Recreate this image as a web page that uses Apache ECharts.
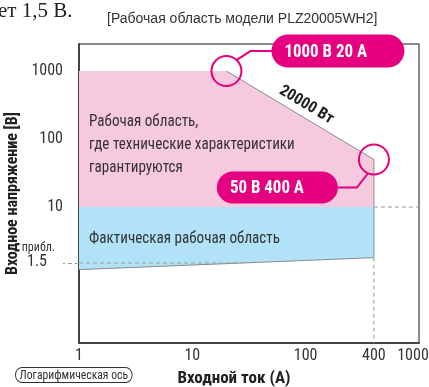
<!DOCTYPE html>
<html>
<head>
<meta charset="utf-8">
<script src="https://cdn.jsdelivr.net/npm/echarts@6/dist/echarts.min.js"></script>
<style>
  html, body { margin: 0; padding: 0; background: #fff; }
  #chart { width: 429px; height: 387px; }
</style>
</head>
<body>
<div id="chart"></div>
<script>
// Operating area of the PLZ20005WH2 electronic load (log-log: current vs voltage)
const currentTicks = [1, 10, 100, 400, 1000];      // A
const voltageTicks = [1.5, 10, 100, 1000];         // V

// Region where specifications are guaranteed (outline vertices)
const specCurrent = [1, 20, 400, 400, 1];          // A
const specVoltage = [1000, 1000, 50, 10, 10];      // V

// Actual operating region below the guaranteed area
const actualCurrent = [1, 400, 400, 1];            // A
const actualVoltage = [10, 10, 1.8, 1.2];          // V

// Minimum operating voltage line
const minLineCurrent = [1, 400];
const minLineVoltage = [1.2, 1.8];
const minVoltageApprox = 1.5;

// Rated corners and the constant-power limit between them
const cornerCurrent = [20, 400];
const cornerVoltage = [1000, 50];
const cornerText = ['1000 В 20 А', '50 В 400 А'];
const powerLimitW = 20000;
const powerText = '20000 Вт';

const axisCurrentMax = 1000;
const axisVoltageMin = 0.1;
const axisVoltageMax = 2500;

const NARROW = '"Noto Sans Condensed", "Liberation Sans Narrow", "Roboto Condensed", "DejaVu Sans Condensed", "Liberation Sans", sans-serif';
const MAGENTA = '#E4007F';
const PINK = '#F7C9DE';
const BLUE = '#B2E2F8';
const EDGE = '#8a8a8a';
const DASH = '#9a9a9a';
const TEXT = '#333333';

const pairs = (xs, ys) => xs.map((x, i) => [x, ys[i]]);

// current where the minimum-voltage line reaches the approximate value (log-log interpolation)
const lg = Math.log10;
const tMin = (lg(minVoltageApprox) - lg(minLineVoltage[0])) / (lg(minLineVoltage[1]) - lg(minLineVoltage[0]));
const minCrossCurrent = Math.pow(10, lg(minLineCurrent[0]) + tMin * (lg(minLineCurrent[1]) - lg(minLineCurrent[0])));

const chart = echarts.init(document.getElementById('chart'), null, { renderer: 'canvas' });

function regionItem(xs, ys, fill, label, labelDy) {
  return function (params, api) {
    const pts = xs.map((x, i) => api.coord([x, ys[i]]));
    const left = Math.min(...pts.map(p => p[0]));
    const leftYs = pts.filter(p => Math.abs(p[0] - left) < 0.5).map(p => p[1]);
    const midY = (Math.min(...leftYs) + Math.max(...leftYs)) / 2;
    return {
      type: 'group',
      children: [
        { type: 'polygon', shape: { points: pts }, style: { fill: fill } },
        {
          type: 'text',
          x: left + 10, y: midY + labelDy, scaleX: 0.89,
          style: {
            text: label, fill: TEXT, font: '17px ' + NARROW, lineHeight: 23,
            align: 'left', verticalAlign: 'middle'
          }
        }
      ]
    };
  };
}

function calloutItem(params, api) {
  const i = params.dataIndex;
  const c = api.coord([cornerCurrent[i], cornerVoltage[i]]);
  const r = 15;
  let pts, pill;
  if (i === 0) {
    pts = [[c[0] + 10, c[1] - 11], [c[0] + 24, c[1] - 20], [c[0] + 46, c[1] - 20]];
    pill = { x: c[0] + 45, y: c[1] - 36.5, w: 133, h: 33 };
  } else {
    pts = [[c[0] - 6, c[1] + 14], [c[0] - 17, c[1] + 28], [c[0] - 37, c[1] + 28]];
    pill = { x: c[0] - 36 - 121, y: c[1] + 12, w: 121, h: 32 };
  }
  return {
    type: 'group',
    children: [
      { type: 'circle', shape: { cx: c[0], cy: c[1], r: r }, style: { fill: null, stroke: MAGENTA, lineWidth: 2 } },
      { type: 'polyline', shape: { points: pts }, style: { fill: null, stroke: MAGENTA, lineWidth: 2 } },
      { type: 'rect', shape: { x: pill.x, y: pill.y, width: pill.w, height: pill.h, r: pill.h / 2 }, style: { fill: MAGENTA } },
      {
        type: 'text',
        x: pill.x + 13, y: pill.y + pill.h / 2 + 1, scaleX: 0.94,
        style: {
          text: cornerText[i], fill: '#fff', font: 'bold 18px ' + NARROW,
          align: 'left', verticalAlign: 'middle'
        }
      }
    ]
  };
}

function powerLabelItem(params, api) {
  const p1 = api.coord([cornerCurrent[0], cornerVoltage[0]]);
  const p2 = api.coord([cornerCurrent[1], cornerVoltage[1]]);
  const iMid = Math.sqrt(cornerCurrent[0] * cornerCurrent[1]);
  const m = api.coord([iMid, powerLimitW / iMid]);
  const a = Math.atan2(p2[1] - p1[1], p2[0] - p1[0]);
  const off = 12;
  return {
    type: 'text',
    x: m[0] + Math.sin(a) * off,
    y: m[1] - Math.cos(a) * off,
    rotation: -a,
    style: {
      text: powerText, fill: '#222', font: 'bold 16px ' + NARROW,
      align: 'center', verticalAlign: 'middle'
    }
  };
}

const lineBase = { type: 'line', symbol: 'none', silent: true, animation: false };

chart.setOption({
  animation: false,
  title: {
    text: '[Рабочая область модели PLZ20005WH2]',
    left: 107, top: 12, padding: 0,
    textStyle: { fontSize: 14, fontWeight: 'normal', color: TEXT, fontFamily: '"Liberation Sans", Arial, sans-serif' }
  },
  graphic: [
    {
      type: 'text', left: -2, top: 1,
      style: { text: 'ет 1,5 В.', fill: '#222', font: '21px "Liberation Serif", "DejaVu Serif", serif' }
    },
    {
      type: 'text', left: 15, top: 367, scaleX: 0.9,
      style: {
        text: 'Логарифмическая ось', fill: TEXT, font: '13px ' + NARROW,
        padding: [1, 4, 0, 4], borderColor: '#333', borderWidth: 1, borderRadius: 9, backgroundColor: '#fff'
      }
    }
  ],
  grid: {
    left: 79, right: 10, top: 44, bottom: 44, show: true, borderColor: '#666', borderWidth: 1.5,
    containLabel: false, outerBoundsMode: 'none'
  },
  xAxis: {
    type: 'log', logBase: 10, min: currentTicks[0], max: axisCurrentMax * 1.0001,
    name: 'Входной ток (А)', nameLocation: 'middle', nameGap: 27, nameMoveOverlap: false,
    nameTextStyle: { fontSize: 17, fontWeight: 'bold', color: '#222', fontFamily: NARROW, padding: [0, 30, 0, 0] },
    axisLine: { show: true, lineStyle: { color: '#444', width: 2 } },
    axisTick: { show: false },
    splitLine: { show: false },
    axisLabel: {
      customValues: currentTicks, margin: 5, fontSize: 16, color: TEXT, fontFamily: NARROW,
      formatter: v => {
        const n = Math.round(v);
        return n === axisCurrentMax ? '{r|' + n + '}' : String(n);
      },
      rich: { r: { fontSize: 16, color: TEXT, fontFamily: NARROW, padding: [0, 12, 0, 0] } }
    }
  },
  yAxis: {
    type: 'log', logBase: 10, min: axisVoltageMin, max: axisVoltageMax,
    name: 'Входное напряжение [В]', nameLocation: 'middle', nameGap: 58, nameMoveOverlap: false,
    nameTextStyle: { fontSize: 16, fontWeight: 'bold', color: '#222', fontFamily: NARROW },
    axisLine: { show: true, lineStyle: { color: '#444', width: 2 } },
    axisTick: { show: true, customValues: [minVoltageApprox], inside: false, length: 16, lineStyle: { color: DASH, type: [4, 3], width: 1 } },
    splitLine: { show: false },
    axisLabel: {
      customValues: voltageTicks, margin: 16, fontSize: 16, color: TEXT, fontFamily: NARROW,
      formatter: v => {
        const n = Math.round(v * 10) / 10;
        return n === minVoltageApprox ? '{a|прибл.}\n{b|1.5}' : String(n);
      },
      rich: {
        a: { fontSize: 12, color: TEXT, fontFamily: NARROW, padding: [0, 8, 0, 0] },
        b: { fontSize: 16, color: TEXT, fontFamily: NARROW, padding: [0, 16, 14, 0] }
      }
    }
  },
  series: [
    { type: 'custom', silent: true, z: 1, data: [0], renderItem: regionItem(specCurrent, specVoltage, PINK, 'Рабочая область,\nгде технические характеристики\nгарантируются', 6) },
    { type: 'custom', silent: true, z: 1, data: [0], renderItem: regionItem(actualCurrent, actualVoltage, BLUE, 'Фактическая рабочая область', 0) },
    // constant-power edge and the 400 A limit
    Object.assign({}, lineBase, { z: 3, data: [[cornerCurrent[0], cornerVoltage[0]], [cornerCurrent[1], cornerVoltage[1]], [actualCurrent[2], actualVoltage[2]]], lineStyle: { color: EDGE, width: 1 } }),
    // minimum operating voltage line
    Object.assign({}, lineBase, { z: 3, data: pairs(minLineCurrent, minLineVoltage), lineStyle: { color: EDGE, width: 1 } }),
    // guide lines
    Object.assign({}, lineBase, { z: 3, data: [[actualCurrent[1], actualVoltage[0]], [axisCurrentMax, actualVoltage[0]]], lineStyle: { color: DASH, width: 1, type: [4, 3] } }),
    Object.assign({}, lineBase, { z: 3, data: [[actualCurrent[2], actualVoltage[2]], [actualCurrent[2], axisVoltageMin]], lineStyle: { color: DASH, width: 1, type: [4, 3] } }),
    Object.assign({}, lineBase, { z: 3, data: [[currentTicks[0], minVoltageApprox], [minCrossCurrent, minVoltageApprox]], lineStyle: { color: DASH, width: 1, type: [4, 3] } }),
    { type: 'custom', silent: true, z: 5, data: [0], renderItem: powerLabelItem },
    { type: 'custom', silent: true, z: 6, data: [0, 1], renderItem: calloutItem, clip: false }
  ]
});
</script>
</body>
</html>
